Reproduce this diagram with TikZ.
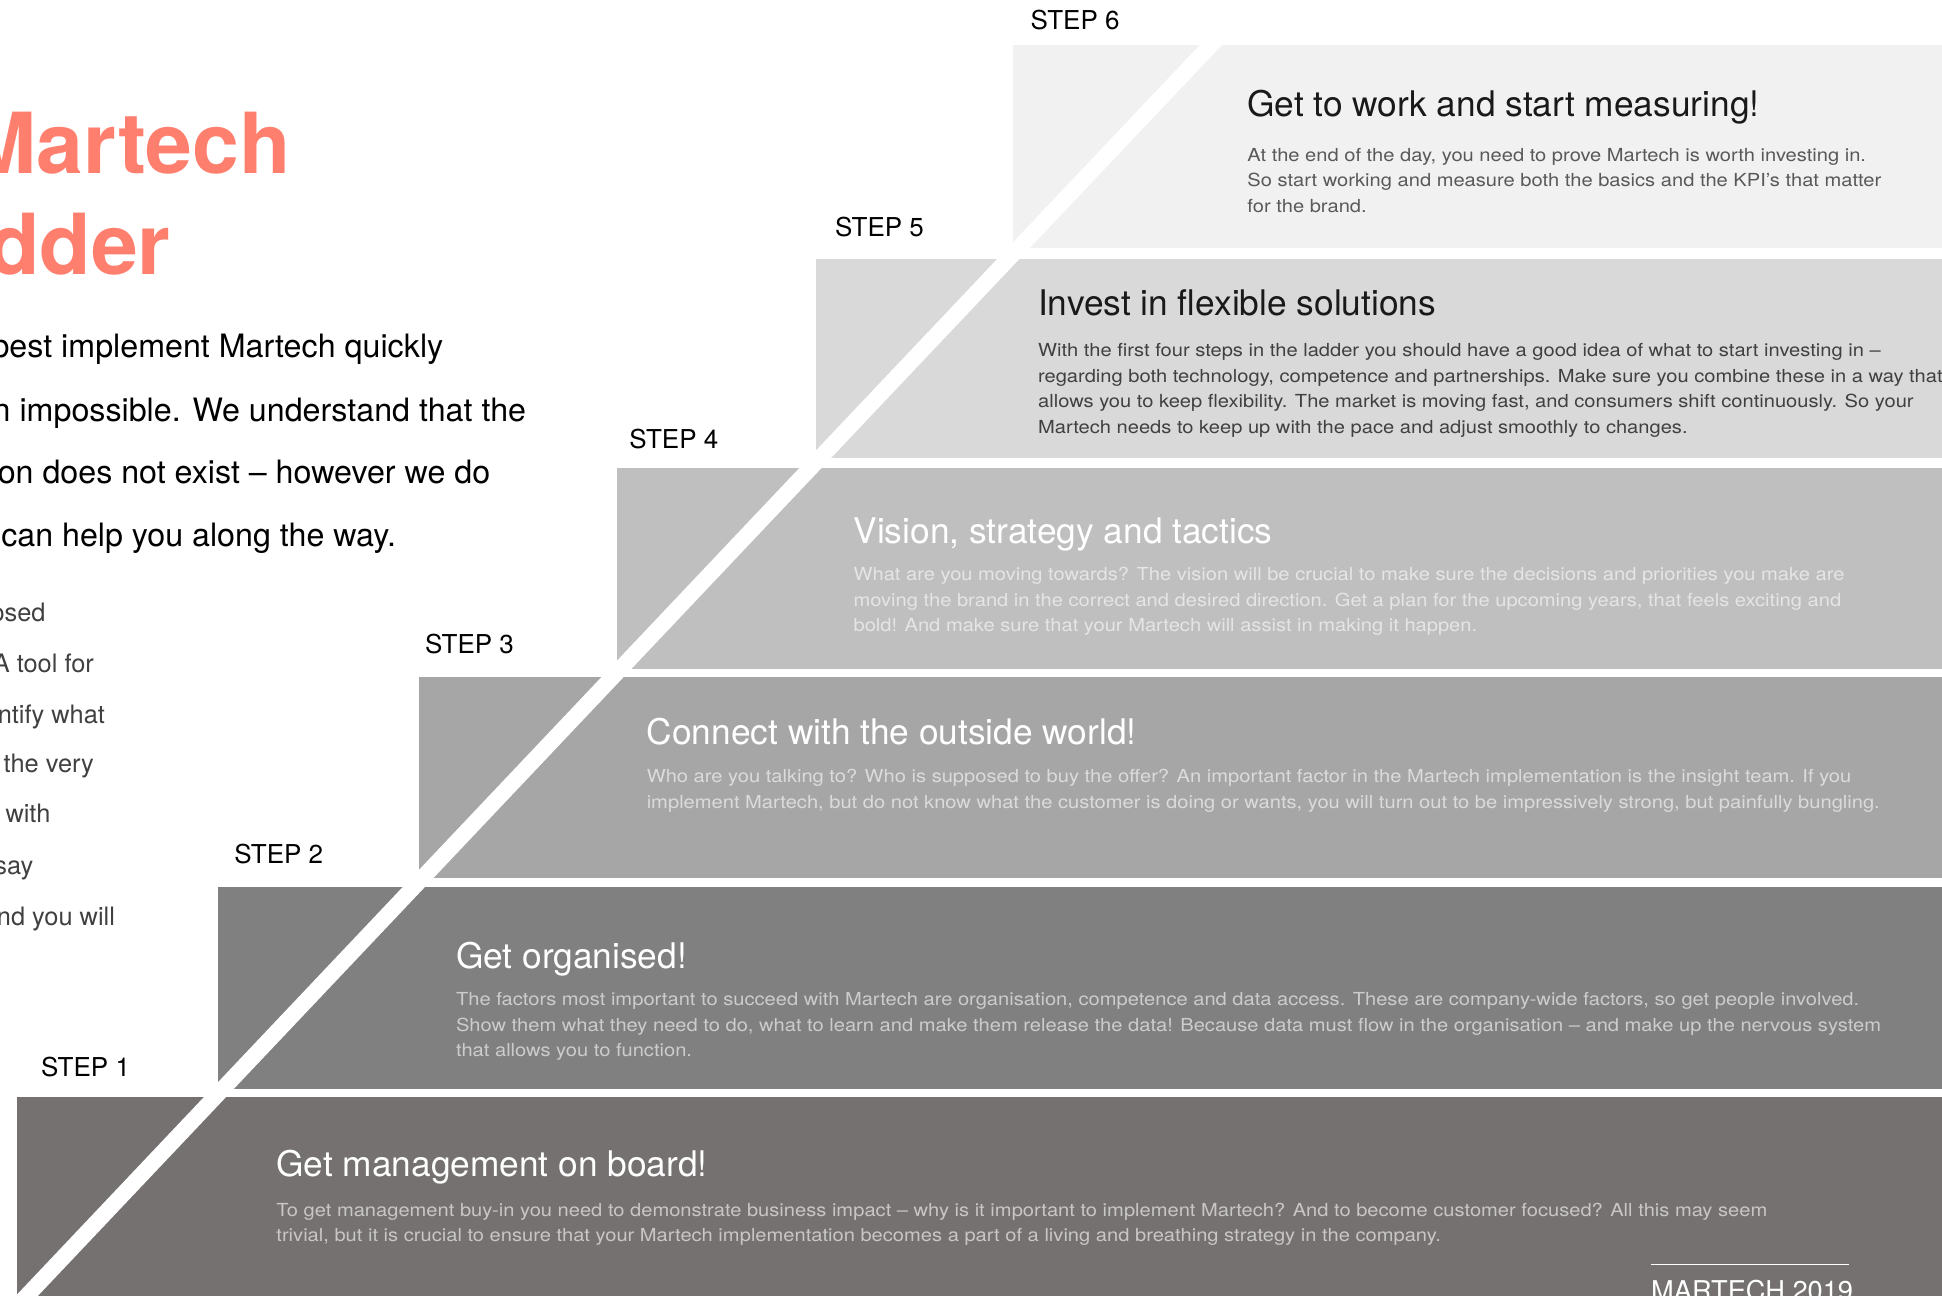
\documentclass[tikz,border=0pt]{standalone}
\usepackage{fontspec}
\setmainfont{TeX Gyre Heros}
\newfontfamily\blurbfont{TeX Gyre Heros}[FakeStretch=1.12,Ligatures=TeX]

\definecolor{salmon}{RGB}{255,127,110}
\definecolor{stepsix}{HTML}{F1F1F1}
\definecolor{stepfive}{HTML}{D9D9D9}
\definecolor{stepfour}{HTML}{BFBFBF}
\definecolor{stepthree}{HTML}{A6A6A6}
\definecolor{steptwo}{HTML}{808080}
\definecolor{stepone}{HTML}{757170}

\newcommand\lines[1]{\begin{tabular}[t]{@{}l@{}}#1\end{tabular}}

\tikzset{
  steplabel/.style={anchor=base west, inner sep=0pt, font=\fontsize{21}{24}\selectfont},
  heading/.style={anchor=base west, inner sep=0pt, font=\fontsize{28.5}{32}\selectfont},
  blurb/.style={anchor=base west, inner sep=0pt, font=\blurbfont\fontsize{14.5}{20.6}\selectfont},
  intro/.style={anchor=base east, inner sep=0pt, font=\fontsize{26}{30}\selectfont},
  aside/.style={anchor=base east, inner sep=0pt, text=black!75, font=\fontsize{20.5}{24}\selectfont},
}

\begin{document}
\begin{tikzpicture}[x=1pt,y=-1pt]
  \useasboundingbox (0,0) rectangle (1568,1046);
  \clip (0,0) rectangle (1568,1046);

  \node[anchor=base east, inner sep=0pt, text=salmon, font=\bfseries\fontsize{68}{70}\selectfont] (martech) at (235,140) {Martech};
  \node[anchor=base east, inner sep=0pt, text=salmon, font=\bfseries\fontsize{68}{70}\selectfont] (ladder) at (138,222) {Ladder};

  \node[intro] (intro1) at (358,289) {best implement Martech quickly};
  \node[intro] (intro2) at (425,340) {n impossible. We understand that the};
  \node[intro] (intro3) at (396,390) {on does not exist – however we do};
  \node[intro] (intro4) at (320,441) {can help you along the way.};

  \node[aside] (aside1) at (37,502) {osed};
  \node[aside] (aside2) at (76,543) {A tool for};
  \node[aside] (aside3) at (85,584) {ntify what};
  \node[aside] (aside4) at (76,624) {the very};
  \node[aside] (aside5) at (41,664) {with};
  \node[aside] (aside6) at (27,706) {say};
  \node[aside] (aside7) at (93,747) {nd you will};

  \fill[stepsix] (818,36) rectangle (1580,200);
  \fill[stepfive] (659,209) rectangle (1580,370);
  \fill[stepfour] (498,378) rectangle (1580,540);
  \fill[stepthree] (338,547) rectangle (1580,709);
  \fill[steptwo] (176,716) rectangle (1580,879);
  \fill[stepone] (14,886) rectangle (1580,1060);

  \coordinate (stripetop) at (995,18);
  \coordinate (stripebot) at (3,1066);
  \draw[white, line width=13] (stripetop) -- (stripebot);

  \node[steplabel] (lbl6) at (832,24) {STEP 6};
  \node[steplabel] (lbl5) at (674,191) {STEP 5};
  \node[steplabel] (lbl4) at (508,362) {STEP 4};
  \node[steplabel] (lbl3) at (343,528) {STEP 3};
  \node[steplabel] (lbl2) at (189,697) {STEP 2};
  \node[steplabel] (lbl1) at (33,869) {STEP 1};

  \node[heading, text=black!90] (head6) at (1007,94) {Get to work and start measuring!};
  \node[blurb, text=black!65] (body6) at (1007,130) {\lines{%
    At the end of the day, you need to prove Martech is worth investing in.\\
    So start working and measure both the basics and the KPI’s that matter\\
    for the brand.}};

  \node[heading, text=black!90] (head5) at (838,255) {Invest in flexible solutions};
  \node[blurb, text=black!75] (body5) at (838,288) {\lines{%
    With the first four steps in the ladder you should have a good idea of what to start investing in –\\
    regarding both technology, competence and partnerships. Make sure you combine these in a way that\\
    allows you to keep flexibility. The market is moving fast, and consumers shift continuously. So your\\
    Martech needs to keep up with the pace and adjust smoothly to changes.}};

  \node[heading, text=white] (head4) at (689,439) {Vision, strategy and tactics};
  \node[blurb, text=white!60!stepfour] (body4) at (689,469) {\lines{%
    What are you moving towards? The vision will be crucial to make sure the decisions and priorities you make are\\
    moving the brand in the correct and desired direction. Get a plan for the upcoming years, that feels exciting and\\
    bold! And make sure that your Martech will assist in making it happen.}};

  \node[heading, text=white] (head3) at (522,601) {Connect with the outside world!};
  \node[blurb, text=white!60!stepthree] (body3) at (522,632) {\lines{%
    Who are you talking to? Who is supposed to buy the offer? An important factor in the Martech implementation is the insight team. If you\\
    implement Martech, but do not know what the customer is doing or wants, you will turn out to be impressively strong, but painfully bungling.}};

  \node[heading, text=white] (head2) at (368,782) {Get organised!};
  \node[blurb, text=white!60!steptwo] (body2) at (368,812) {\lines{%
    The factors most important to succeed with Martech are organisation, competence and data access. These are company-wide factors, so get people involved.\\
    Show them what they need to do, what to learn and make them release the data! Because data must flow in the organisation – and make up the nervous system\\
    that allows you to function.}};

  \node[heading, text=white] (head1) at (223,950) {Get management on board!};
  \node[blurb, text=white!60!stepone] (body1) at (223,982) {\lines{%
    To get management buy-in you need to demonstrate business impact – why is it important to implement Martech? And to become customer focused? All this may seem\\
    trivial, but it is crucial to ensure that your Martech implementation becomes a part of a living and breathing strategy in the company.}};

  \node[anchor=base west, inner sep=0pt, text=white, font=\fontsize{22}{24}\selectfont] (year) at (1333,1050) {MARTECH 2019};
  \draw[white, line width=1] (1333,1021) -- (1493,1021);
\end{tikzpicture}
\end{document}
